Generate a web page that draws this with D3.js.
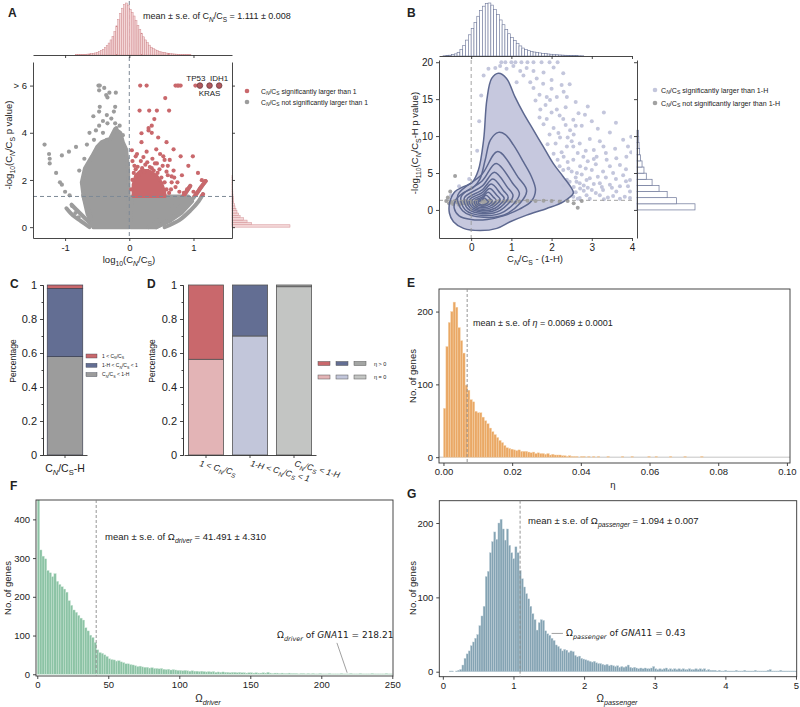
<!DOCTYPE html>
<html>
<head>
<meta charset="utf-8">
<script src="https://cdn.jsdelivr.net/npm/d3@7"></script>
<style>
  body { margin: 0; background: #fff; }
</style>
</head>
<body>
<svg id="fig" width="800" height="707"></svg>
<script>
// ---------------- data ----------------
// A: volcano of log10(CN/CS) vs -log10 p
const aRedPoints = [[0.17,6],[0.27,6],[0.72,6],[0.75,6],[0.77,6],[0.8,6],[1.03,6],
  [0.56,5.47],[0.16,4.94],[0.31,4.94],[0.43,4.94],[0.62,4.94],[0.39,4.58],[0.35,4.3],[0.30,4.2],
  [0.19,3.98],[0.30,4.1],[0.35,4.0],[0.04,3.26],[0.19,3.6],[0.45,3.8],[0.58,3.6],[0.69,3.3],
  [0.8,3.0],[0.42,3.3],[0.53,3.0],[0.22,2.97],[0.63,2.85],[0.99,3.0],[0.27,3.2],[0.92,2.6],
  [1.07,2.3],[1.13,1.99],[1.18,1.95],[0.35,2.5],[0.43,2.7],[0.13,2.56],[0.69,2.4],[0.82,2.2],
  [0.75,1.9],[0.9,1.6],[1.0,1.5],[0.7,2.1],[0.65,1.6],[0.48,3.1],[0.1,3.0],[0.6,2.6],
  [0.05,2.0],[0.07,2.3],[0.1,2.45],[0.14,2.2],[0.2,2.5],[0.25,2.65],[0.32,2.55],[0.38,2.4],
  [0.44,2.3],[0.5,2.1],[0.55,1.9],[0.58,1.6],[0.62,1.45],[0.47,2.45],[0.28,2.75],[0.18,2.8],
  [0.4,2.7],[0.52,2.6],[0.6,2.2],[0.66,1.9],[0.72,1.7],[0.78,1.5],[0.85,1.45],[0.03,1.6],
  [0.05,2.8],[0.12,3.1],[0.36,2.9],[0.55,2.85],[0.08,2.6],[0.23,2.35],[0.58,2.35],[0.66,2.15]];
const aGrayPoints = [[-0.48,6],[-0.46,6],[-0.47,5.8],[-0.39,5.9],[-0.34,5.5],[-0.21,5.7],[-0.31,5.7],
  [-0.36,5.6],[-0.46,5.1],[-0.47,4.9],[-0.22,5.1],[-0.35,4.75],[-0.24,4.9],[-0.56,4.7],[-0.41,4.5],
  [-0.34,4.4],[-0.22,4.4],[-0.47,4.3],[-0.52,4.1],[-0.2,4.2],[-0.41,4.0],[-0.62,4.0],[-0.35,3.7],
  [-0.66,3.5],[-0.83,3.4],[-0.94,3.2],[-1.05,3.04],[-1.24,2.7],[-1.32,3.5],[-1.25,3.1],[-1.24,2.9],
  [-1.14,2.3],[-1.08,1.9],[-1.05,1.8],[-1.0,1.5],[-0.93,1.35],[-0.89,0.9],[-0.84,0.6],[-0.79,0.42],
  [-0.63,0.25],[-0.28,4.6],[-0.15,4.3],[-0.1,3.9],[-0.55,3.7],[-0.7,2.9],[-0.78,2.4]];
const aHighlights = [[1.10,6],[1.25,6],[1.40,6]];
const aHighlightNames = ["TP53", "KRAS", "IDH1"];
const aGrayCloudLeft = [[-0.56,0],[-0.65,0.56],[-0.71,1.27],[-0.74,1.9],[-0.69,2.5],[-0.58,3.0],
  [-0.5,3.4],[-0.43,3.6],[-0.3,3.74],[-0.22,4.16],[-0.14,4.0],[-0.1,3.6],[-0.05,3.3],[-0.02,2.5],
  [-0.01,1.1],[0,0]];
const aGrayCloudRight = [[0.02,0],[0.03,1.1],[0.04,1.3],[0.92,1.3],[0.98,1.1],[0.82,0.62],
  [0.62,0.25],[0.42,0]];
const aRedCloud = [[0.06,1.3],[0.06,1.8],[0.1,2.2],[0.18,2.4],[0.3,2.4],[0.42,2.2],[0.5,1.9],
  [0.55,1.5],[0.56,1.3]];
const aArcsRight = [
  [[0.42,0],[0.65,0.35],[0.85,0.8],[1.0,1.25],[1.12,1.7],[1.19,1.95]],
  [[0.3,0],[0.55,0.45],[0.72,0.9],[0.85,1.35],[0.95,1.75]],
  [[0.55,0],[0.78,0.3],[0.95,0.7],[1.08,1.1],[1.15,1.4]]];
const aArcsLeft = [
  [[-0.56,0.05],[-0.66,0.3],[-0.78,0.62],[-0.9,0.95]],
  [[-0.62,0.0],[-0.75,0.25],[-0.88,0.5],[-0.98,0.8]],
  [[-0.6,0.4],[-0.66,0.9],[-0.72,1.35]]];
const aTopHistStart = -0.84, aTopHistStep = 0.03;
const aTopHist = [0.5,0.6,0.8,1,1.2,1.5,1.8,2.2,2.7,3.3,4,5,6.5,8.5,11,14,18,23,29,36,45,56,68,80,90,
  97,100,96,88,82,75,66,57,49,42,35,29,24,19,15,12,10,8.5,7,6,5,4.3,3.7,3.2,2.7,2.3,2,1.7,1.4,1.2,1,
  0.8,0.7,0.6,0.5];
const aRightHistStep = 0.1;
const aRightHist = [100,34,26,20,14,11.5,8.6,6.9,5.2,4,2.9,2.4,2.1,1.7,1.5,1.4,1.2,1.0,0.9,0.7,0.5,0.5];

// B: CN/CS-(1-H) vs -log10 p
const bPurplePoints = [[0.75,20],[0.85,20],[1.0,20],[1.1,20],[1.25,20],[1.4,20],[1.55,20],[1.75,20],
  [1.95,20],[2.15,20],[0.6,19.2],[0.72,19.5],[0.88,19.1],[1.05,19.5],[1.22,18.8],[1.38,19.2],
  [1.55,18.8],[0.43,19.1],[0.31,18.2],[1.3,18.2],[1.47,17.3],[1.13,17.3],
  [2.29,18.5],[2.0,17.6],[1.79,17.1],[1.63,17.8],[2.25,16.9],[2.13,15.3],[2.38,15.3],[2.67,13.1],
  [2.83,12.9],[2.54,12.2],[2.75,11.4],[2.46,10.8],[3.78,9.5],[3.98,9.9],[3.29,8.6],[3.58,8.3],
  [3.05,8.1],[2.79,7.2],[3.12,7.2],[3.37,6.8],[3.61,7.0],[3.86,7.2],[2.54,6.8],[2.71,5.9],[3.0,5.4],
  [3.28,5.2],[3.53,5.0],[3.78,4.7],[3.95,4.05],[2.87,4.05],[2.62,3.8],[3.2,3.6],[3.45,3.4],[3.7,3.2],
  [2.71,2.9],[3.0,2.7],[3.28,2.7],[3.61,2.5],[3.9,3.2],[3.95,2.5],[2.87,2.0],[3.2,2.0],[3.53,1.9],
  [3.82,1.8],[2.54,1.8],[1.72,13.6],[1.88,12.3],[2.05,11.1],[2.21,9.8],[2.38,8.6],[1.96,14.9],
  [2.13,13.6],[2.29,12.3],[1.88,15.3],[2.17,10.4],[2.4,9.8],[2.54,8.6],[2.3,7.2],[2.42,5.6],
  [2.29,5.4],[2.63,5.0],[2.38,4.1],[2.7,1.6],[2.95,1.5],[3.1,2.3],[3.4,1.7],[2.6,2.4],[2.8,3.3],
  [3.35,4.4],[3.1,6.2],[2.95,9.6],[3.15,11.0],[2.6,14.6],[2.45,17.0],[1.8,18.6],[2.05,19.3],
  [0.2,12.0],[0.25,15.5],[0.15,8.0],[-0.05,4.2],[-0.3,3.2],[-0.5,2.0],[-0.58,1.5],
  [1.7,12.5],[1.8,11.6],[1.95,10.2],[2.1,9.0],[2.25,7.8],[2.4,6.5],[2.5,5.2],[2.6,4.4],[2.7,3.6],
  [2.8,2.6],[2.9,3.0],[3.05,3.5],[2.55,3.1],[2.75,4.8],[2.9,6.6],[2.65,7.7],[2.5,9.3],[2.35,11.5],
  [2.2,12.8],[2.0,13.2],[1.85,14.2],[1.7,15.6],[1.55,16.5],[1.6,14.8],[2.55,10.2],[2.7,9.0],
  [2.85,8.0],[3.2,9.3],[3.45,10.5],[3.0,12.0],[2.9,14.0],[3.3,13.2],[3.6,11.8],[2.3,16.0],[2.0,16.4],
  [3.7,6.1],[3.45,5.9],[3.85,5.5],[3.15,4.5],[3.6,4.2],[2.45,2.3],[2.65,1.5],[3.3,1.45],[3.7,1.5],
  [3.95,1.6],[3.85,3.9],[3.98,7.8],[3.9,8.6],[2.15,6.8],[2.3,3.3],[2.45,3.8],[2.2,5.9],[2.05,7.6],
  [1.9,8.9],[2.85,5.6],[3.05,6.9],[3.35,7.7],[2.95,4.3],[3.5,3.0],[3.25,3.1],[2.35,13.9],[2.6,11.4]];
const bGrayPoints = [[-0.4,4.6],[-0.62,1.2],[-0.55,0.9],[-0.5,1.1],[-0.45,0.8],[-0.4,1.2],[-0.35,1.0],
  [-0.3,0.7],[-0.25,1.1],[-0.2,0.9],[-0.15,1.2],[-0.1,0.8],[-0.05,1.0],[0.0,1.2],[0.05,0.9],[0.1,1.1],
  [0.15,0.7],[0.2,1.0],[0.25,1.2],[0.3,0.8],[0.35,1.1],[0.4,0.9],[0.45,1.25],[0.5,1.2],[0.55,0.85],
  [0.6,1.0],[0.7,1.2],[0.8,1.1],[0.9,1.25],[1.0,1.2],[1.1,1.0],[1.2,1.15],[1.4,1.25],[1.6,1.2],
  [1.8,1.25],[2.0,1.2],[2.2,1.1],[2.4,1.2],[2.55,0.9],[2.65,0.3],[2.75,1.2],[-0.52,2.5],[-0.58,1.7],
  [0.12,0.5],[0.28,0.55],[0.33,1.25]];
const bContourOuter = [[0.68,18.5],[0.88,17.8],[1.09,15.3],[1.30,13.1],[1.55,10.8],[1.79,8.6],
  [2.04,6.3],[2.29,4.5],[2.50,2.9],[2.54,2.25],[2.29,1.1],[1.88,0.2],[1.38,-0.7],[0.97,-1.6],
  [0.64,-2.5],[0.22,-2.8],[-0.19,-2.5],[-0.44,-1.6],[-0.54,-0.45],[-0.53,1.1],[-0.40,2.5],
  [-0.19,3.15],[0.02,3.7],[0.18,5.4],[0.31,9.5],[0.39,14.9],[0.51,17.8]];
const bContourSecond = [[0.68,10.5],[0.85,10.2],[1.05,8.8],[1.3,6.5],[1.5,4.5],[1.6,2.7],[1.5,1.2],
  [1.2,0.1],[0.8,-0.8],[0.4,-1.3],[0.0,-1.3],[-0.3,-0.8],[-0.42,0.2],[-0.38,1.4],[-0.2,2.3],
  [0.05,3.0],[0.22,4.2],[0.35,6.8],[0.48,9.5]];
const bContourCenter = [0.25, 1.0];
const bInnerTop    = [7.9, 6.3, 5.1, 4.2, 3.5, 2.9, 2.4, 2.0, 1.6];
const bInnerApexX  = [0.66, 0.62, 0.58, 0.54, 0.5, 0.46, 0.42, 0.37, 0.33];
const bInnerRight  = [1.38, 1.2, 1.04, 0.92, 0.82, 0.72, 0.62, 0.52, 0.43];
const bInnerBottom = [-1.0, -0.75, -0.5, -0.3, -0.1, 0.1, 0.3, 0.5, 0.68];
const bInnerLeft   = [-0.33, -0.25, -0.17, -0.1, -0.04, 0.02, 0.08, 0.13, 0.18];
const bTopHistStart = -0.7, bTopHistStep = 0.07;
const bTopHist = [0.5,1,1.5,2.5,4,7,12,20,30,40,52,63,75,86,94,99,100,96,88,78,68,59,50,42,35,29,24,19,
  15,12,10,8.5,7.5,6.5,5.8,5,4.4,3.8,3.3,2.8,2.4,2,1.7,1.4,1.2,1,0.8,0.7,0.5,0.4];
const bRightHistStep = 0.83;
const bRightHist = [100,68,52,38,26,16,12,8.7,5.8,4.6,3.5,3,2.5];

// C / D: stacked proportions
const cCategory = ["C_[N]/C_{S}-H"];
const cSegments = [[0, 0.58], [0.58, 0.98], [0.98, 1.0]];
const cLegendLabels = ["1 < C_[N]/C_{S}", "1-H < C_[N]/C_{S} < 1", "C_[N]/C_{S} < 1-H"];
const dCategories = ["1 < C_[N]/C_{S}", "1-H < C_[N]/C_{S} < 1", "C_[N]/C_{S} < 1-H"];
const dEtaZero = [0.563, 0.70, 0.99];
const dLegendLabels = ["η > 0", "η = 0"];

// E: eta histogram (bin 0.0007 from 0)
const eStep = 0.0007;
const eCounts = [67,152,185,200,213,206,178,160,143,99,92,79,76,63,61,61,55,50,46,40,
  35,31,27,23,20,16,13,12,11,10,9,10,8,8,8,7,6,7,5,6,5,5,4,5,3,4,3,3,3,2,2,1,2,1,1,1,0,1,1,0,1,
  0,1,0,1,0,0,0,1,0,0,0,0,0,1,0,0,0,1,0,0,0,0,0,0,1,0,0,1,0,0,0,0,0,1,0,0,0,0,0,1,0,0,0,0,0,0,1];
const eMean = 0.0069;
const eTicksX = [0, 0.02, 0.04, 0.06, 0.08, 0.10];
const eTicksY = [0, 100, 200];

// F: Omega driver histogram (bin 250/150 from 0)
const fStep = 250 / 150;
const fCounts = [520,321,305,298,268,262,252,260,240,232,
  226,220,212,190,178,166,160,152,145,140,
  120,112,101,95,82,63,56,54,50,46,
  40,38,37,34,35,32,30,27,27,25,
  24,22,20,21,19,18,18,16,17,15,
  15,14,15,13,12,13,11,12,11,10,
  10,9,10,9,8,9,8,8,7,8,
  7,6,7,6,7,5,6,5,6,5,
  5,4,5,5,4,5,4,4,3,4,
  4,3,4,3,3,4,3,5,3,2,
  3,3,2,3,2,2,3,2,2,2,
  1,2,2,1,2,1,2,1,1,2,
  1,1,1,2,1,1,1,1,2,1,
  1,1,2,1,1,1,2,1,1,1,
  1,2,1,1,1,1,1,2,1,1];
const fMean = 41.491;
const fGna11 = 218.21;
const fTicksX = [0, 50, 100, 150, 200, 250];
const fTicksY = [0, 100, 200, 300, 400];

// G: Omega passenger histogram (bin 0.03 from 0)
const gStep = 0.03;
const gCounts = [0,0,0,1,1,0,1,2,3,9,
  18,24,28,35,40,45,50,62,75,88,
  128,135,160,175,188,178,200,205,192,177,
  192,170,160,152,168,160,136,125,114,105,
  98,88,78,70,56,66,70,69,55,51,
  49,45,42,36,34,31,28,30,29,26,
  28,27,22,20,21,18,17,16,15,14,
  13,14,12,11,11,10,9,10,8,9,
  8,7,8,6,7,6,7,9,6,5,
  6,5,4,5,4,5,4,4,5,7,
  4,3,4,3,4,5,3,4,3,4,
  3,4,3,4,3,3,4,3,3,4,
  3,4,3,4,2,3,2,2,2,1,
  2,1,1,2,1,1,1,1,2,1,
  1,1,2,1,1,1,1,2,1,1,
  1,1,1,2,3,1,1,1,1,2,
  1,1,1,1,1,1,1];
const gMean = 1.094;
const gTicksX = [0, 1, 2, 3, 4, 5];
const gTicksY = [0, 100, 200];

// ---------------- helpers ----------------
const FONT = "'Liberation Sans', Arial, Helvetica, sans-serif";
const DJ = "'DejaVu Sans', sans-serif";
const svg = d3.select("#fig");
svg.append("rect").attr("width", 800).attr("height", 707).attr("fill", "#fff");

// "_{x}" subscript, "_[x]" italic subscript, "*x*" italic
function rich(t, s, fs) {
  const parts = s.split(/(_\{[^}]*\}|_\[[^\]]*\]|\*[^*]*\*)/).filter(p => p !== "");
  let down = false;
  parts.forEach(p => {
    let txt = p, sub = false, ital = false;
    if (p.startsWith("_{")) { sub = true; txt = p.slice(2, -1); }
    else if (p.startsWith("_[")) { sub = true; ital = true; txt = p.slice(2, -1); }
    else if (p.startsWith("*")) { ital = true; txt = p.slice(1, -1); }
    const ts = t.append("tspan").text(txt);
    if (sub) { ts.attr("font-size", fs * 0.72); if (!down) ts.attr("dy", fs * 0.28); down = true; }
    else { ts.attr("font-size", fs); if (down) ts.attr("dy", -fs * 0.28); down = false; }
    if (ital) ts.attr("font-style", "italic");
  });
  return t;
}

function label(x, y, str, fs, o = {}) {
  const t = svg.append("text").attr("x", x).attr("y", y)
    .attr("font-size", fs).attr("font-family", o.font || FONT).attr("fill", "#222")
    .attr("text-anchor", o.anchor || "start");
  if (o.rotate) t.attr("transform", `rotate(${o.rotate},${x},${y})`);
  if (o.italic) t.attr("font-style", "italic");
  if (o.bold) t.attr("font-weight", "bold");
  return rich(t, str, fs);
}

function styleAxis(g, fs) {
  g.attr("font-size", fs).attr("font-family", FONT);
  g.select(".domain").attr("stroke", "#333").attr("stroke-width", 0.9);
  g.selectAll(".tick line").attr("stroke", "#333").attr("stroke-width", 0.9);
  g.selectAll(".tick text").attr("fill", "#222");
  return g;
}

function clipRect(id, x, y, w, h) {
  svg.append("clipPath").attr("id", id).append("rect")
    .attr("x", x).attr("y", y).attr("width", w).attr("height", h);
  return "url(#" + id + ")";
}

const RED = "#c9686c", GRAY = "#9c9c9c", BLUE = "#636e93", LILAC = "#c6c8de";

// ---------------- panel A ----------------
const xA = d3.scaleLinear().domain([-1.5, 1.6]).range([33, 232]);
const yA = d3.scaleLinear().domain([-0.46, 7]).range([238, 62]);
const lineA = d3.line().x(d => xA(d[0])).y(d => yA(d[1]));
const arcA = d3.line().curve(d3.curveCatmullRom).x(d => xA(d[0])).y(d => yA(d[1]));

const plotA = svg.append("g").attr("clip-path", clipRect("clipA", 33, 62, 199, 176));
[aGrayCloudLeft, aGrayCloudRight].forEach(p => plotA.append("path")
  .attr("d", lineA(p) + "Z").attr("fill", GRAY).attr("stroke", GRAY)
  .attr("stroke-width", 4).attr("stroke-linejoin", "round"));
const arcHigh = svg.append("g").attr("clip-path", clipRect("clipAhigh", xA(0), 62, 232 - xA(0), yA(1.3) - 62));
aArcsLeft.concat(aArcsRight).forEach(p => plotA.append("path").attr("d", arcA(p))
  .attr("fill", "none").attr("stroke", GRAY).attr("stroke-width", 4).attr("stroke-linecap", "round"));
aArcsRight.forEach(p => arcHigh.append("path").attr("d", arcA(p))
  .attr("fill", "none").attr("stroke", RED).attr("stroke-width", 4).attr("stroke-linecap", "round"));
plotA.selectAll(".ag").data(aGrayPoints).join("circle")
  .attr("cx", d => xA(d[0])).attr("cy", d => yA(d[1])).attr("r", 2.1).attr("fill", GRAY);
plotA.append("path").attr("d", lineA(aRedCloud) + "Z").attr("fill", RED).attr("stroke", RED)
  .attr("stroke-width", 3).attr("stroke-linejoin", "round");
plotA.selectAll(".ar").data(aRedPoints).join("circle")
  .attr("cx", d => xA(d[0])).attr("cy", d => yA(d[1])).attr("r", 2.1).attr("fill", RED);
svg.selectAll(".ah").data(aHighlights).join("circle")
  .attr("cx", d => xA(d[0])).attr("cy", d => yA(d[1])).attr("r", 2.8)
  .attr("fill", "#b0585d").attr("stroke", "#6e3c40").attr("stroke-width", 0.8);

// dashed reference lines
svg.append("line").attr("x1", xA(0)).attr("x2", xA(0)).attr("y1", 1).attr("y2", 238)
  .attr("stroke", "#7d8996").attr("stroke-width", 1).attr("stroke-dasharray", "4,3");
svg.append("line").attr("x1", 33).attr("x2", 232).attr("y1", yA(1.301)).attr("y2", yA(1.301))
  .attr("stroke", "#7d8996").attr("stroke-width", 1).attr("stroke-dasharray", "4,3");

styleAxis(svg.append("g").attr("transform", "translate(33,0)")
  .call(d3.axisLeft(yA).tickValues([0, 2, 4, 6]).tickSize(3).tickSizeOuter(0)
    .tickFormat(d => d === 6 ? "> 6" : String(d))), 9.5);
styleAxis(svg.append("g").attr("transform", "translate(0,238)")
  .call(d3.axisBottom(xA).tickValues([-1, 0, 1]).tickSize(3).tickSizeOuter(0)
    .tickFormat(d => String(d))), 9.5);

// top marginal
const yAt = d3.scaleLinear().domain([0, 100]).range([55, 3]);
svg.selectAll(".at").data(aTopHist).join("rect")
  .attr("x", (d, i) => xA(aTopHistStart + i * aTopHistStep))
  .attr("width", xA(aTopHistStep) - xA(0))
  .attr("y", d => yAt(d)).attr("height", d => yAt(0) - yAt(d))
  .attr("fill", "#f3d6d7").attr("stroke", "#cf8589").attr("stroke-width", 0.45);
styleAxis(svg.append("g").attr("transform", "translate(0,55)")
  .call(d3.axisBottom(xA).tickValues([-1, 0, 1]).tickSize(3).tickSizeOuter(0).tickFormat("")), 9);
// right marginal
const xAr = d3.scaleLinear().domain([0, 100]).range([232, 290]);
svg.selectAll(".arh").data(aRightHist).join("rect")
  .attr("x", xAr(0)).attr("width", d => xAr(d) - xAr(0))
  .attr("y", (d, i) => yA((i + 1) * aRightHistStep))
  .attr("height", (d, i) => yA(i * aRightHistStep) - yA((i + 1) * aRightHistStep))
  .attr("fill", "#f3d6d7").attr("stroke", "#cf8589").attr("stroke-width", 0.45);
styleAxis(svg.append("g").attr("transform", "translate(232,0)")
  .call(d3.axisRight(yA).tickValues([0, 2, 4, 6]).tickSize(3).tickSizeOuter(0).tickFormat("")), 9);

label(8, 17, "A", 12, { bold: true });
label(143, 19, "mean ± s.e. of C_[N]/C_{S} = 1.111 ± 0.008", 9);
label(12, 145, "-log_{10}(C_[N]/C_{S} p value)", 9.5, { anchor: "middle", rotate: -90 });
label(129, 263, "log_{10}(C_[N]/C_{S})", 9.5, { anchor: "middle" });
aHighlights.forEach((d, i) => {
  const dy = aHighlightNames[i] === "KRAS" ? 10.5 : -5;
  label(xA(d[0]) + (i === 0 ? -4 : 0), yA(d[1]) + dy, aHighlightNames[i], 8, { anchor: "middle" });
});
svg.append("circle").attr("cx", 247).attr("cy", 91).attr("r", 2.3).attr("fill", RED);
svg.append("circle").attr("cx", 247).attr("cy", 102).attr("r", 2.3).attr("fill", GRAY);
label(261, 93.5, "C_[N]/C_{S} significantly larger than 1", 6.8);
label(261, 104.5, "C_[N]/C_{S} not significantly larger than 1", 6.8);

// ---------------- panel B ----------------
const xB = d3.scaleLinear().domain([-0.8, 4]).range([439, 632]);
const yB = d3.scaleLinear().domain([-3.8, 20.3]).range([238, 60]);
const closedB = d3.line().curve(d3.curveCatmullRomClosed.alpha(0.5)).x(d => xB(d[0])).y(d => yB(d[1]));
function innerContour(i) {
  const [cx, cy] = bContourCenter;
  const t = bInnerTop[i], ax = bInnerApexX[i], r = bInnerRight[i], b = bInnerBottom[i], l = bInnerLeft[i];
  return [[ax, t], [ax + 0.7 * (r - ax), cy + 0.5 * (t - cy)], [r, cy + 0.22 * (t - cy)],
    [cx + 0.6 * (r - cx), b + 0.3 * (cy - b)], [cx + 0.05 * (r - cx), b],
    [l + 0.2 * (cx - l), cy - 0.55 * (cy - b)], [l, cy + 0.15 * (t - cy)],
    [l + 0.6 * (ax - l), cy + 0.55 * (t - cy)]];
}
const plotB = svg.append("g").attr("clip-path", clipRect("clipB", 439, 59, 193, 179));
plotB.append("path").attr("d", closedB(bContourOuter)).attr("fill", LILAC);
plotB.selectAll(".bp").data(bPurplePoints).join("circle")
  .attr("cx", d => xB(d[0])).attr("cy", d => yB(d[1])).attr("r", 2).attr("fill", "#c3c6dc");
plotB.selectAll(".bg").data(bGrayPoints).join("circle")
  .attr("cx", d => xB(d[0])).attr("cy", d => yB(d[1])).attr("r", 2).attr("fill", "#a2a2a2");
svg.append("line").attr("x1", xB(0)).attr("x2", xB(0)).attr("y1", 60).attr("y2", 238)
  .attr("stroke", "#999").attr("stroke-width", 0.9).attr("stroke-dasharray", "4,3");
svg.append("line").attr("x1", 439).attr("x2", 632).attr("y1", yB(1.301)).attr("y2", yB(1.301))
  .attr("stroke", "#999").attr("stroke-width", 0.9).attr("stroke-dasharray", "4,3");
const contours = [bContourOuter, bContourSecond].concat(bInnerTop.map((d, i) => innerContour(i)));
plotB.selectAll(".bc").data(contours).join("path")
  .attr("d", d => closedB(d)).attr("fill", "none").attr("stroke", "#5d6890").attr("stroke-width", 1.5);

styleAxis(svg.append("g").attr("transform", "translate(439,0)")
  .call(d3.axisLeft(yB).tickValues([0, 5, 10, 15, 20]).tickSize(3).tickSizeOuter(0)
    .tickFormat(d3.format("d"))), 10);
styleAxis(svg.append("g").attr("transform", "translate(0,238)")
  .call(d3.axisBottom(xB).tickValues([0, 1, 2, 3, 4]).tickSize(3).tickSizeOuter(0)
    .tickFormat(d3.format("d"))), 10);
const yBt = d3.scaleLinear().domain([0, 100]).range([56, 3]);
svg.selectAll(".bt").data(bTopHist).join("rect")
  .attr("x", (d, i) => xB(bTopHistStart + i * bTopHistStep))
  .attr("width", xB(bTopHistStep) - xB(0))
  .attr("y", d => yBt(d)).attr("height", d => yBt(0) - yBt(d))
  .attr("fill", "#fff").attr("stroke", "#6b7598").attr("stroke-width", 0.6);
styleAxis(svg.append("g").attr("transform", "translate(0,56)")
  .call(d3.axisBottom(xB).tickValues([0, 1, 2, 3, 4]).tickSize(3).tickSizeOuter(0).tickFormat("")), 9);
const xBr = d3.scaleLinear().domain([0, 100]).range([637, 695]);
svg.selectAll(".brh").data(bRightHist).join("rect")
  .attr("x", xBr(0)).attr("width", d => xBr(d) - xBr(0))
  .attr("y", (d, i) => yB((i + 1) * bRightHistStep))
  .attr("height", (d, i) => yB(i * bRightHistStep) - yB((i + 1) * bRightHistStep))
  .attr("fill", "#fff").attr("stroke", "#6b7598").attr("stroke-width", 0.7);
styleAxis(svg.append("g").attr("transform", "translate(637,0)")
  .call(d3.axisLeft(yB).tickValues([0, 5, 10, 15, 20]).tickSize(3).tickSizeOuter(0).tickFormat("")), 9);

label(407, 17, "B", 12, { bold: true });
label(418, 143, "-log_{110}(C_[N]/C_{S}-H p value)", 9.5, { anchor: "middle", rotate: -90 });
label(535, 262, "C_[N]/C_{S} - (1-H)", 9.5, { anchor: "middle" });
svg.append("circle").attr("cx", 655).attr("cy", 90).attr("r", 2.3).attr("fill", "#c3c6dc");
svg.append("circle").attr("cx", 655).attr("cy", 103).attr("r", 2.3).attr("fill", "#a2a2a2");
label(661, 92.5, "C_[N]/C_{S} significantly larger than 1-H", 7.1);
label(661, 105.5, "C_[N]/C_{S} not significantly larger than 1-H", 7.1);

// ---------------- panel C ----------------
const yC = d3.scaleLinear().domain([0, 1]).range([455, 285]);
const xC = d3.scaleBand().domain(cCategory).range([43, 87]).paddingOuter(0.12);
const cColors = [GRAY, BLUE, RED];
svg.selectAll(".cs").data(cSegments).join("rect")
  .attr("x", xC(cCategory[0])).attr("width", xC.bandwidth())
  .attr("y", d => yC(d[1])).attr("height", d => yC(d[0]) - yC(d[1]))
  .attr("fill", (d, i) => cColors[i]).attr("stroke", "#3d4152").attr("stroke-width", 0.7);
styleAxis(svg.append("g").attr("transform", "translate(43,0)")
  .call(d3.axisLeft(yC).ticks(5).tickSize(3).tickSizeOuter(0).tickFormat(d3.format("~g"))), 11);
styleAxis(svg.append("g").attr("transform", "translate(43,0)")
  .call(d3.axisLeft(yC).tickValues(d3.range(0.1, 1, 0.2)).tickSize(1.5).tickFormat("")), 11);
styleAxis(svg.append("g").attr("transform", "translate(0,455)")
  .call(d3.axisBottom(xC).tickSize(3).tickSizeOuter(0).tickFormat("")), 11);
label(xC(cCategory[0]) + xC.bandwidth() / 2, 472, cCategory[0], 10.5, { anchor: "middle" });
label(16, 361, "Percentage", 8.5, { anchor: "middle", rotate: -90 });
label(10, 288, "C", 12, { bold: true });
cLegendLabels.forEach((t, i) => {
  const yy = 356 + i * 9.3;
  svg.append("rect").attr("x", 86).attr("y", yy - 2).attr("width", 11).attr("height", 4)
    .attr("fill", cColors[2 - i]).attr("stroke", "#3d4152").attr("stroke-width", 0.4);
  label(102, yy + 1.8, t, 5);
});

// ---------------- panel D ----------------
const xD = d3.scaleBand().domain(dCategories).range([184, 316]).paddingInner(0.2).paddingOuter(0.1);
const dLight = ["#e3b4b6", "#c2c6da", "#c3c5c3"], dDark = [RED, BLUE, "#a3a5a3"];
dCategories.forEach((c, i) => {
  svg.append("rect").attr("x", xD(c)).attr("width", xD.bandwidth())
    .attr("y", yC(dEtaZero[i])).attr("height", yC(0) - yC(dEtaZero[i]))
    .attr("fill", dLight[i]).attr("stroke", "#555").attr("stroke-width", 0.8);
  svg.append("rect").attr("x", xD(c)).attr("width", xD.bandwidth())
    .attr("y", yC(1)).attr("height", yC(dEtaZero[i]) - yC(1))
    .attr("fill", dDark[i]).attr("stroke", "#555").attr("stroke-width", 0.8);
});
styleAxis(svg.append("g").attr("transform", "translate(183,0)")
  .call(d3.axisLeft(yC).ticks(5).tickSize(3).tickSizeOuter(0).tickFormat(d3.format("~g"))), 11);
styleAxis(svg.append("g").attr("transform", "translate(183,0)")
  .call(d3.axisLeft(yC).tickValues(d3.range(0.1, 1, 0.2)).tickSize(1.5).tickFormat("")), 11);
styleAxis(svg.append("g").attr("transform", "translate(0,455)")
  .call(d3.axisBottom(xD).tickSize(3).tickSizeOuter(0).tickFormat("")), 11);
dCategories.forEach((c, i) => {
  const x0 = xD(c) + xD.bandwidth() / 2 + [-7, 0, 0][i];
  label(x0, 466, c, 8.5, { rotate: 15, italic: true });
});
label(155, 361, "Percentage", 8.5, { anchor: "middle", rotate: -90 });
label(147, 288, "D", 12, { bold: true });
[dDark, dLight].forEach((cols, r) => {
  cols.forEach((col, k) => {
    svg.append("rect").attr("x", 318 + k * 18).attr("y", 361.5 + r * 13.5).attr("width", 12).attr("height", 4)
      .attr("fill", col).attr("stroke", "#555").attr("stroke-width", 0.5);
  });
  label(374, 365.5 + r * 13.5, dLegendLabels[r], 5.5);
});

// ---------------- histogram panels E / F / G ----------------
function histPanel(id, box, x, y, counts, step, fill, stroke, xTicks, yTicks, xFmt) {
  const [x0, y0, x1, y1] = box;
  const g = svg.append("g").attr("clip-path", clipRect(id, x0, y0, x1 - x0, y1 - y0));
  g.selectAll("rect").data(counts).join("rect")
    .attr("x", (d, i) => x(i * step)).attr("width", (d, i) => x((i + 1) * step) - x(i * step))
    .attr("y", d => y(d)).attr("height", d => y(0) - y(d))
    .attr("fill", fill).attr("stroke", stroke).attr("stroke-width", 0.4);
  styleAxis(svg.append("g").attr("transform", `translate(0,${y1})`)
    .call(d3.axisBottom(x).tickValues(xTicks).tickSize(3).tickSizeOuter(0).tickPadding(2.5).tickFormat(xFmt)), 9.5)
    .select(".domain").remove();
  styleAxis(svg.append("g").attr("transform", `translate(${x0},0)`)
    .call(d3.axisLeft(y).tickValues(yTicks).tickSize(3).tickSizeOuter(0)), 9.5)
    .select(".domain").remove();
  svg.append("rect").attr("x", x0).attr("y", y0).attr("width", x1 - x0).attr("height", y1 - y0)
    .attr("fill", "none").attr("stroke", "#333").attr("stroke-width", 0.9);
  return g;
}
function dashed(x, top, bottom) {
  svg.append("line").attr("x1", x).attr("x2", x).attr("y1", top).attr("y2", bottom)
    .attr("stroke", "#8a8a8a").attr("stroke-width", 0.9).attr("stroke-dasharray", "3,2");
}

// E
const xE = d3.scaleLinear().domain([-0.0013, 0.1009]).range([439, 790]);
const yE = d3.scaleLinear().domain([-8, 231]).range([463, 289]);
svg.append("line").attr("x1", 439).attr("x2", 790).attr("y1", yE(0)).attr("y2", yE(0))
  .attr("stroke", "#b5b5b5").attr("stroke-width", 0.8);
histPanel("clipE", [439, 289, 790, 463], xE, yE, eCounts, eStep, "#eaa865", "#f6d4ad",
  eTicksX, eTicksY, d3.format(".2f"));
dashed(xE(eMean), 289, 463);
label(407, 287, "E", 12, { bold: true });
label(473, 326, "mean ± s.e. of *η* = 0.0069 ± 0.0001", 9);
label(416, 376, "No. of genes", 9.5, { anchor: "middle", rotate: -90 });
label(613, 488, "η", 9.5, { anchor: "middle" });

// F
const xF = d3.scaleLinear().domain([-0.9, 250.5]).range([36, 393]);
const yF = d3.scaleLinear().domain([-4.5, 450]).range([676, 500]);
histPanel("clipF", [36, 500, 393, 676], xF, yF, fCounts, fStep, "#8cc3a5", "#cbe5d6",
  fTicksX, fTicksY, d3.format("d"));
dashed(xF(fMean), 500, 676);
svg.append("line").attr("x1", xF(211)).attr("y1", yF(81)).attr("x2", xF(fGna11)).attr("y2", yF(4))
  .attr("stroke", "#888").attr("stroke-width", 0.8);
label(10, 490, "F", 12, { bold: true });
label(105, 540, "mean ± s.e. of Ω_[driver] = 41.491 ± 4.310", 9.5);
label(277, 638, "Ω_[driver] of *GNA*11 = 218.21", 9, { font: DJ });
label(11, 588, "No. of genes", 9.5, { anchor: "middle", rotate: -90 });
label(208, 702, "Ω_[driver]", 10, { anchor: "middle" });

// G
const xG = d3.scaleLinear().domain([-0.05, 5.01]).range([439.3, 796.7]);
const yG = d3.scaleLinear().domain([-6.7, 230]).range([676.7, 500.7]);
histPanel("clipG", [439.3, 500.7, 796.7, 676.7], xG, yG, gCounts, gStep, "#84a3b3", "#c6d5dd",
  gTicksX, gTicksY, d3.format("d"));
dashed(xG(gMean), 500.7, 676.7);
svg.append("line").attr("x1", xG(1.54)).attr("y1", yG(51.5)).attr("x2", xG(1.70)).attr("y2", yG(51.5))
  .attr("stroke", "#888").attr("stroke-width", 0.8);
label(407, 498, "G", 12, { bold: true });
label(528, 524, "mean ± s.e. of Ω_[passenger] = 1.094 ± 0.007", 9.5);
label(566, 636, "Ω_[passenger] of *GNA*11 = 0.43", 9, { font: DJ });
label(416, 588, "No. of genes", 9.5, { anchor: "middle", rotate: -90 });
label(617, 702, "Ω_[passenger]", 10, { anchor: "middle" });
</script>
</body>
</html>
